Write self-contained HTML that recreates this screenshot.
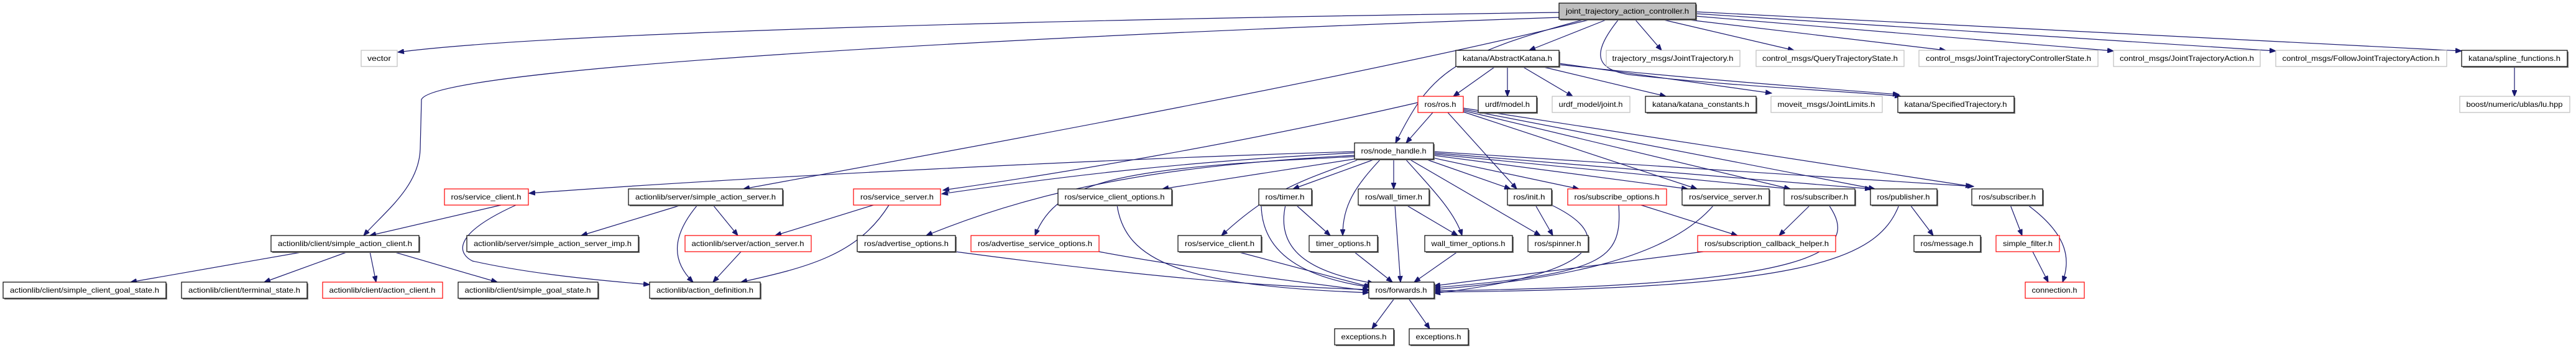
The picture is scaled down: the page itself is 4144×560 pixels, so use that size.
<!DOCTYPE html>
<html><head><meta charset="utf-8"><style>
html,body{margin:0;padding:0;background:#fff;}
svg{display:block;}
text{font-family:"Liberation Sans",sans-serif;font-size:12px;fill:#000;}
.e{fill:none;stroke:#191970;stroke-width:1.2;marker-end:url(#a);}
.b{fill:#fff;stroke:#000;stroke-width:1.2;}
.g{fill:#fff;stroke:#bfbfbf;stroke-width:1.2;}
.r{fill:#fff;stroke:#ff0000;stroke-width:1.2;}
.m{fill:#bfbfbf;stroke:#000;stroke-width:1.2;}
.s{fill:#777;}
</style></head><body>
<svg width="4144" height="560" viewBox="0 0 4144 560" xmlns="http://www.w3.org/2000/svg">
<defs><marker id="a" markerUnits="userSpaceOnUse" markerWidth="11" markerHeight="8" refX="10" refY="4" orient="auto"><path d="M0,0 L10,4 L0,8 z" fill="#191970" stroke="#191970"/></marker></defs>

<!-- edges -->
<g>
<path class="e" d="M2508,20 C1800,30 900,50 640,84"/>
<path class="e" d="M2508,28 C1600,60 700,110 678,160 L676,240 C674,300 620,340 585,379"/>
<path class="e" d="M2560,31 C2200,120 1600,230 1196,304"/>
<path class="e" d="M2586,31 L2460,81"/>
<path class="e" d="M2550,31 C2330,90 2300,120 2245,230"/>
<path class="e" d="M2630,31 L2673,81"/>
<path class="e" d="M2672,31 L2886,81"/>
<path class="e" d="M2700,30 L3130,81"/>
<path class="e" d="M2728,26 L3400,82"/>
<path class="e" d="M2728,22 L3661,82"/>
<path class="e" d="M2728,19 L3960,82"/>
<path class="e" d="M2604,31 C2565,80 2560,110 2620,120 C2800,140 2950,145 3058,155"/>
<path class="e" d="M4045,106 L4045,155"/>
<path class="e" d="M2407,106 L2338,155"/>
<path class="e" d="M2425,106 L2425,155"/>
<path class="e" d="M2447,106 L2530,155"/>
<path class="e" d="M2475,106 L2680,155"/>
<path class="e" d="M2508,102 L2850,150"/>
<path class="e" d="M2508,104 C2700,125 2900,140 3055,152"/>
<path class="e" d="M2305,181 L2262,230"/>
<path class="e" d="M2329,181 L2440,304"/>
<path class="e" d="M2354,180 L2730,304"/>
<path class="e" d="M2354,178 L2880,304"/>
<path class="e" d="M2354,176 L3016,304"/>
<path class="e" d="M2354,174 L3172,300"/>
<path class="e" d="M2281,165 C2000,230 1700,280 1517,306"/>
<path class="e" d="M2179,244 C1800,255 1200,285 851,311"/>
<path class="e" d="M2179,246 C1900,260 1700,285 1515,312"/>
<path class="e" d="M2179,250 C1900,265 1693,296 1490,379"/>
<path class="e" d="M2179,252 C1800,270 1700,290 1665,379"/>
<path class="e" d="M2185,255 L1870,304"/>
<path class="e" d="M2190,255 C2100,290 2050,300 1965,379"/>
<path class="e" d="M2215,255 L2080,304"/>
<path class="e" d="M2242,255 L2242,304"/>
<path class="e" d="M2222,255 C2180,300 2160,330 2160,379"/>
<path class="e" d="M2260,255 C2300,300 2340,340 2352,379"/>
<path class="e" d="M2265,255 L2478,379"/>
<path class="e" d="M2290,255 L2430,304"/>
<path class="e" d="M2300,253 L2540,304"/>
<path class="e" d="M2306,250 L2715,304"/>
<path class="e" d="M2306,248 L2880,304"/>
<path class="e" d="M2306,246 L3010,304"/>
<path class="e" d="M2306,244 L3175,300"/>
<path class="e" d="M1537,405 C1800,440 2000,460 2202,466"/>
<path class="e" d="M1768,405 C1900,430 2100,455 2202,468"/>
<path class="e" d="M1797,330 C1810,420 1900,460 2202,471"/>
<path class="e" d="M1990,405 L2205,462"/>
<path class="e" d="M2068,330 C2050,410 2120,440 2210,456"/>
<path class="e" d="M2178,405 L2240,454"/>
<path class="e" d="M2244,330 L2253,454"/>
<path class="e" d="M2345,405 L2275,454"/>
<path class="e" d="M2496,330 C2600,380 2580,440 2307,472"/>
<path class="e" d="M2604,330 C2610,420 2580,440 2307,463"/>
<path class="e" d="M2757,330 C2680,420 2500,450 2307,466"/>
<path class="e" d="M2740,405 L2307,460"/>
<path class="e" d="M2942,330 C2990,400 2950,460 2307,468"/>
<path class="e" d="M3055,330 C3020,420 2900,465 2307,470"/>
<path class="e" d="M806,330 L595,379"/>
<path class="e" d="M830,330 C720,380 740,410 760,420 C850,440 950,450 1045,458"/>
<path class="e" d="M1096,330 L935,379"/>
<path class="e" d="M1147,330 L1187,379"/>
<path class="e" d="M1122,330 C1080,380 1080,420 1115,454"/>
<path class="e" d="M1405,330 L1247,379"/>
<path class="e" d="M1430,330 C1380,410 1300,430 1192,454"/>
<path class="e" d="M1192,405 L1147,454"/>
<path class="e" d="M490,405 L210,454"/>
<path class="e" d="M560,405 L425,454"/>
<path class="e" d="M595,405 L605,454"/>
<path class="e" d="M632,405 L800,454"/>
<path class="e" d="M2244,479 L2207,529"/>
<path class="e" d="M2265,479 L2300,529"/>
<path class="e" d="M2640,330 L2795,379"/>
<path class="e" d="M2912,330 L2862,379"/>
<path class="e" d="M3073,330 L3110,379"/>
<path class="e" d="M3234,330 L3253,379"/>
<path class="e" d="M3262,330 C3330,380 3330,420 3318,454"/>
<path class="e" d="M3270,405 L3295,454"/>
<path class="e" d="M2470,330 L2498,379"/>
<path class="e" d="M2085,330 L2140,379"/>
<path class="e" d="M2262,330 L2345,379"/>
<path class="e" d="M2029,330 C2030,420 2120,450 2204,462"/>
</g>

<!-- nodes -->
<g>
<rect class="s" x="2510" y="7" width="220" height="26"/><rect class="m" x="2508" y="5" width="220" height="26"/><text x="2618" y="22" text-anchor="middle" textLength="198" lengthAdjust="spacingAndGlyphs">joint_trajectory_action_controller.h</text>

<rect class="g" x="581" y="81" width="58" height="26"/><text x="610" y="98" text-anchor="middle" textLength="38" lengthAdjust="spacingAndGlyphs">vector</text>
<rect class="s" x="2344" y="83" width="166" height="26"/><rect class="b" x="2342" y="81" width="166" height="26"/><text x="2425" y="98" text-anchor="middle" textLength="144" lengthAdjust="spacingAndGlyphs">katana/AbstractKatana.h</text>
<rect class="g" x="2584" y="81" width="215" height="26"/><text x="2691" y="98" text-anchor="middle" textLength="195" lengthAdjust="spacingAndGlyphs">trajectory_msgs/JointTrajectory.h</text>
<rect class="g" x="2825" y="81" width="238" height="26"/><text x="2944" y="98" text-anchor="middle" textLength="218" lengthAdjust="spacingAndGlyphs">control_msgs/QueryTrajectoryState.h</text>
<rect class="g" x="3087" y="81" width="288" height="26"/><text x="3231" y="98" text-anchor="middle" textLength="266" lengthAdjust="spacingAndGlyphs">control_msgs/JointTrajectoryControllerState.h</text>
<rect class="g" x="3400" y="81" width="236" height="26"/><text x="3518" y="98" text-anchor="middle" textLength="216" lengthAdjust="spacingAndGlyphs">control_msgs/JointTrajectoryAction.h</text>
<rect class="g" x="3661" y="81" width="275" height="26"/><text x="3798" y="98" text-anchor="middle" textLength="253" lengthAdjust="spacingAndGlyphs">control_msgs/FollowJointTrajectoryAction.h</text>
<rect class="s" x="3962" y="83" width="170" height="26"/><rect class="b" x="3960" y="81" width="170" height="26"/><text x="4045" y="98" text-anchor="middle" textLength="148" lengthAdjust="spacingAndGlyphs">katana/spline_functions.h</text>

<rect class="r" x="2281" y="155" width="73" height="26"/><text x="2317" y="172" text-anchor="middle" textLength="51" lengthAdjust="spacingAndGlyphs">ros/ros.h</text>
<rect class="s" x="2380" y="157" width="94" height="26"/><rect class="b" x="2378" y="155" width="94" height="26"/><text x="2425" y="172" text-anchor="middle" textLength="72" lengthAdjust="spacingAndGlyphs">urdf/model.h</text>
<rect class="g" x="2497" y="155" width="125" height="26"/><text x="2559" y="172" text-anchor="middle" textLength="103" lengthAdjust="spacingAndGlyphs">urdf_model/joint.h</text>
<rect class="s" x="2649" y="157" width="178" height="26"/><rect class="b" x="2647" y="155" width="178" height="26"/><text x="2736" y="172" text-anchor="middle" textLength="156" lengthAdjust="spacingAndGlyphs">katana/katana_constants.h</text>
<rect class="g" x="2849" y="155" width="179" height="26"/><text x="2938" y="172" text-anchor="middle" textLength="157" lengthAdjust="spacingAndGlyphs">moveit_msgs/JointLimits.h</text>
<rect class="s" x="3055" y="157" width="187" height="26"/><rect class="b" x="3053" y="155" width="187" height="26"/><text x="3146" y="172" text-anchor="middle" textLength="165" lengthAdjust="spacingAndGlyphs">katana/SpecifiedTrajectory.h</text>
<rect class="g" x="3957" y="155" width="177" height="26"/><text x="4045" y="172" text-anchor="middle" textLength="155" lengthAdjust="spacingAndGlyphs">boost/numeric/ublas/lu.hpp</text>

<rect class="s" x="2181" y="232" width="127" height="26"/><rect class="b" x="2179" y="230" width="127" height="26"/><text x="2242" y="247" text-anchor="middle" textLength="105" lengthAdjust="spacingAndGlyphs">ros/node_handle.h</text>

<rect class="r" x="715" y="304" width="135" height="26"/><text x="782" y="321" text-anchor="middle" textLength="113" lengthAdjust="spacingAndGlyphs">ros/service_client.h</text>
<rect class="s" x="1013" y="306" width="248" height="26"/><rect class="b" x="1011" y="304" width="248" height="26"/><text x="1135" y="321" text-anchor="middle" textLength="226" lengthAdjust="spacingAndGlyphs">actionlib/server/simple_action_server.h</text>
<rect class="r" x="1373" y="304" width="140" height="26"/><text x="1443" y="321" text-anchor="middle" textLength="118" lengthAdjust="spacingAndGlyphs">ros/service_server.h</text>
<rect class="s" x="1704" y="306" width="183" height="26"/><rect class="b" x="1702" y="304" width="183" height="26"/><text x="1793" y="321" text-anchor="middle" textLength="161" lengthAdjust="spacingAndGlyphs">ros/service_client_options.h</text>
<rect class="s" x="2027" y="306" width="85" height="26"/><rect class="b" x="2025" y="304" width="85" height="26"/><text x="2067" y="321" text-anchor="middle" textLength="63" lengthAdjust="spacingAndGlyphs">ros/timer.h</text>
<rect class="s" x="2187" y="306" width="114" height="26"/><rect class="b" x="2185" y="304" width="114" height="26"/><text x="2242" y="321" text-anchor="middle" textLength="92" lengthAdjust="spacingAndGlyphs">ros/wall_timer.h</text>
<rect class="s" x="2427" y="306" width="71" height="26"/><rect class="b" x="2425" y="304" width="71" height="26"/><text x="2460" y="321" text-anchor="middle" textLength="51" lengthAdjust="spacingAndGlyphs">ros/init.h</text>
<rect class="r" x="2522" y="304" width="159" height="26"/><text x="2601" y="321" text-anchor="middle" textLength="137" lengthAdjust="spacingAndGlyphs">ros/subscribe_options.h</text>
<rect class="s" x="2708" y="306" width="140" height="26"/><rect class="b" x="2706" y="304" width="140" height="26"/><text x="2776" y="321" text-anchor="middle" textLength="118" lengthAdjust="spacingAndGlyphs">ros/service_server.h</text>
<rect class="s" x="2872" y="306" width="114" height="26"/><rect class="b" x="2870" y="304" width="114" height="26"/><text x="2927" y="321" text-anchor="middle" textLength="92" lengthAdjust="spacingAndGlyphs">ros/subscriber.h</text>
<rect class="s" x="3011" y="306" width="107" height="26"/><rect class="b" x="3009" y="304" width="107" height="26"/><text x="3062" y="321" text-anchor="middle" textLength="85" lengthAdjust="spacingAndGlyphs">ros/publisher.h</text>
<rect class="s" x="3174" y="306" width="114" height="26"/><rect class="b" x="3172" y="304" width="114" height="26"/><text x="3229" y="321" text-anchor="middle" textLength="92" lengthAdjust="spacingAndGlyphs">ros/subscriber.h</text>

<rect class="s" x="438" y="381" width="238" height="26"/><rect class="b" x="436" y="379" width="238" height="26"/><text x="555" y="396" text-anchor="middle" textLength="216" lengthAdjust="spacingAndGlyphs">actionlib/client/simple_action_client.h</text>
<rect class="s" x="753" y="381" width="276" height="26"/><rect class="b" x="751" y="379" width="276" height="26"/><text x="889" y="396" text-anchor="middle" textLength="254" lengthAdjust="spacingAndGlyphs">actionlib/server/simple_action_server_imp.h</text>
<rect class="r" x="1102" y="379" width="203" height="26"/><text x="1203" y="396" text-anchor="middle" textLength="181" lengthAdjust="spacingAndGlyphs">actionlib/server/action_server.h</text>
<rect class="s" x="1381" y="381" width="158" height="26"/><rect class="b" x="1379" y="379" width="158" height="26"/><text x="1458" y="396" text-anchor="middle" textLength="136" lengthAdjust="spacingAndGlyphs">ros/advertise_options.h</text>
<rect class="r" x="1562" y="379" width="206" height="26"/><text x="1665" y="396" text-anchor="middle" textLength="184" lengthAdjust="spacingAndGlyphs">ros/advertise_service_options.h</text>
<rect class="s" x="1897" y="381" width="134" height="26"/><rect class="b" x="1895" y="379" width="134" height="26"/><text x="1962" y="396" text-anchor="middle" textLength="112" lengthAdjust="spacingAndGlyphs">ros/service_client.h</text>
<rect class="s" x="2108" y="381" width="110" height="26"/><rect class="b" x="2106" y="379" width="110" height="26"/><text x="2161" y="396" text-anchor="middle" textLength="88" lengthAdjust="spacingAndGlyphs">timer_options.h</text>
<rect class="s" x="2294" y="381" width="141" height="26"/><rect class="b" x="2292" y="379" width="141" height="26"/><text x="2362" y="396" text-anchor="middle" textLength="119" lengthAdjust="spacingAndGlyphs">wall_timer_options.h</text>
<rect class="s" x="2460" y="381" width="97" height="26"/><rect class="b" x="2458" y="379" width="97" height="26"/><text x="2506" y="396" text-anchor="middle" textLength="75" lengthAdjust="spacingAndGlyphs">ros/spinner.h</text>
<rect class="r" x="2731" y="379" width="222" height="26"/><text x="2842" y="396" text-anchor="middle" textLength="200" lengthAdjust="spacingAndGlyphs">ros/subscription_callback_helper.h</text>
<rect class="s" x="3081" y="381" width="107" height="26"/><rect class="b" x="3079" y="379" width="107" height="26"/><text x="3132" y="396" text-anchor="middle" textLength="85" lengthAdjust="spacingAndGlyphs">ros/message.h</text>
<rect class="r" x="3211" y="379" width="102" height="26"/><text x="3262" y="396" text-anchor="middle" textLength="80" lengthAdjust="spacingAndGlyphs">simple_filter.h</text>

<rect class="s" x="7" y="456" width="262" height="26"/><rect class="b" x="5" y="454" width="262" height="26"/><text x="136" y="471" text-anchor="middle" textLength="240" lengthAdjust="spacingAndGlyphs">actionlib/client/simple_client_goal_state.h</text>
<rect class="s" x="294" y="456" width="202" height="26"/><rect class="b" x="292" y="454" width="202" height="26"/><text x="393" y="471" text-anchor="middle" textLength="180" lengthAdjust="spacingAndGlyphs">actionlib/client/terminal_state.h</text>
<rect class="r" x="519" y="454" width="193" height="26"/><text x="615" y="471" text-anchor="middle" textLength="171" lengthAdjust="spacingAndGlyphs">actionlib/client/action_client.h</text>
<rect class="s" x="739" y="456" width="225" height="26"/><rect class="b" x="737" y="454" width="225" height="26"/><text x="849" y="471" text-anchor="middle" textLength="203" lengthAdjust="spacingAndGlyphs">actionlib/client/simple_goal_state.h</text>
<rect class="s" x="1047" y="456" width="178" height="26"/><rect class="b" x="1045" y="454" width="178" height="26"/><text x="1134" y="471" text-anchor="middle" textLength="156" lengthAdjust="spacingAndGlyphs">actionlib/action_definition.h</text>
<rect class="s" x="2204" y="456" width="105" height="26"/><rect class="b" x="2202" y="454" width="105" height="26"/><text x="2254" y="471" text-anchor="middle" textLength="83" lengthAdjust="spacingAndGlyphs">ros/forwards.h</text>
<rect class="r" x="3258" y="454" width="95" height="26"/><text x="3305" y="471" text-anchor="middle" textLength="73" lengthAdjust="spacingAndGlyphs">connection.h</text>

<rect class="s" x="2149" y="531" width="95" height="26"/><rect class="b" x="2147" y="529" width="95" height="26"/><text x="2194" y="546" text-anchor="middle" textLength="73" lengthAdjust="spacingAndGlyphs">exceptions.h</text>
<rect class="s" x="2269" y="531" width="95" height="26"/><rect class="b" x="2267" y="529" width="95" height="26"/><text x="2314" y="546" text-anchor="middle" textLength="73" lengthAdjust="spacingAndGlyphs">exceptions.h</text>
</g>
</svg>
</body></html>
